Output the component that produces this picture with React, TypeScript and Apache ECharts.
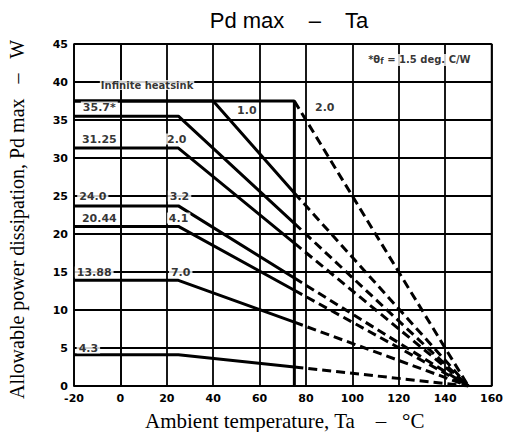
import React, { useEffect, useRef } from "react";
import * as echarts from "echarts";

// Temperatures (°C)
const xMin = -20;
const xMax = 160;
const tcLimit = 75; // end of solid portion
const zeroTemp = 150; // all curves reach 0 W here

// Infinite heatsink curve
const infiniteLevel = 37.5;

// Heatsink curves: flat level, break temperature, value read at 75 °C
const curveLevels = [37.5, 35.5, 31.3, 23.7, 21.0, 13.9, 4.1];
const curveBreaks = [40, 25, 25, 25, 25, 25, 25];
const curveAt75 = [25.4, 21.4, 18.8, 14.2, 12.6, 8.4, 2.5];

// Annotation texts: [x, y, text]
const leftLabels: [number, number, string][] = [
  [-9.1, 36.7, "35.7*"],
  [-9.1, 32.5, "31.25"],
  [-11.9, 25, "24.0"],
  [-9.1, 22.1, "20.44"],
  [-11.3, 15, "13.88"],
  [-13.8, 5, "4.3"],
];
const thetaLabels: [number, number, string][] = [
  [24.3, 32.5, "2.0"],
  [25.5, 25, "3.2"],
  [25.1, 22.1, "4.1"],
  [26, 15, "7.0"],
  [54.5, 36.3, "1.0"],
  [88.1, 36.6, "2.0"],
];
const headLabel: [number, number, string] = [11.5, 39.6, "Infinite heatsink"];
const noteLabel: [number, number] = [128.9, 42.9];

const titleText = "Pd max    \u2013    Ta";
const xName = "Ambient temperature, Ta    \u2013   \u00B0C";
const yName = "Allowable power dissipation, Pd max   \u2013   W";

export default function App() {
  const ref = useRef<HTMLDivElement>(null);
  useEffect(() => {
    if (!ref.current) return;
    document.body.style.margin = "0";
    const chart = echarts.init(ref.current, undefined, { renderer: "svg" });
    const solidStyle = { color: "#000", width: 3, type: "solid" as const };
    const dashStyle = { color: "#000", width: 3, type: [9, 5] as any };
    const series: any[] = [];

    // infinite heatsink
    series.push({
      type: "line",
      data: [
        [xMin, infiniteLevel],
        [tcLimit, infiniteLevel],
        [tcLimit, 0],
      ],
      symbol: "none",
      lineStyle: solidStyle,
      z: 3,
    });
    series.push({
      type: "line",
      data: [
        [tcLimit, infiniteLevel],
        [zeroTemp, 0],
      ],
      symbol: "none",
      lineStyle: dashStyle,
      z: 3,
    });

    curveLevels.forEach((lvl, i) => {
      series.push({
        type: "line",
        data: [
          [xMin, lvl],
          [curveBreaks[i], lvl],
          [tcLimit, curveAt75[i]],
        ],
        symbol: "none",
        lineStyle: solidStyle,
        z: 3,
      });
      series.push({
        type: "line",
        data: [
          [tcLimit, curveAt75[i]],
          [zeroTemp, 0],
        ],
        symbol: "none",
        lineStyle: dashStyle,
        z: 3,
      });
    });

    const labelBase = {
      show: true,
      position: "inside",
      color: "#000",
      fontFamily: "DejaVu Sans",
      fontWeight: "bold",
      fontSize: 11,
    };
    const labelData: any[] = [];
    leftLabels.concat(thetaLabels).forEach(([x, y, t]) => {
      labelData.push({
        value: [x, y],
        label: { ...labelBase, formatter: t, backgroundColor: "#fff", padding: [0, 2] },
      });
    });
    labelData.push({
      value: [headLabel[0], headLabel[1]],
      label: { ...labelBase, fontSize: 10, formatter: headLabel[2], backgroundColor: "#fff", padding: [0, 1] },
    });
    labelData.push({
      value: [noteLabel[0], noteLabel[1]],
      label: {
        ...labelBase,
        formatter: "{a|*\u03B8}{s|f}{a| = 1.5 deg. C/W}",
        backgroundColor: "#fff",
        padding: [0, 1],
        rich: {
          a: { fontFamily: "DejaVu Sans", fontWeight: "bold", fontSize: 10, color: "#000" },
          s: { fontFamily: "DejaVu Sans", fontWeight: "bold", fontSize: 8, color: "#000", verticalAlign: "bottom", padding: [4, 0, 0, 0] },
        },
      },
    });
    series.push({
      type: "scatter",
      data: labelData,
      symbolSize: 0,
      z: 5,
      silent: true,
    });

    chart.setOption({
      animation: false,
      backgroundColor: "#fff",
      title: {
        text: titleText,
        left: 284,
        top: 4,
        textAlign: "center",
        textStyle: {
          fontFamily: "Liberation Sans",
          fontWeight: "normal",
          fontSize: 22,
          color: "#000",
        },
      },
      grid: {
        left: 74,
        right: 9,
        top: 44,
        bottom: 46,
        show: true,
        borderColor: "#000",
        borderWidth: 1.5,
        backgroundColor: "transparent",
      },
      xAxis: {
        type: "value",
        min: xMin,
        max: xMax,
        interval: 20,
        axisLine: { show: true, lineStyle: { color: "#000", width: 1.5 } },
        axisTick: { show: false },
        axisLabel: {
          color: "#000",
          fontFamily: "DejaVu Sans",
          fontWeight: "bold",
          fontSize: 11,
          margin: 7,
        },
        splitLine: { show: true, lineStyle: { color: "#000", width: 1.8 } },
      },
      yAxis: {
        type: "value",
        min: 0,
        max: 45,
        interval: 5,
        axisLine: { show: true, lineStyle: { color: "#000", width: 1.5 } },
        axisTick: { show: false },
        axisLabel: {
          color: "#000",
          fontFamily: "DejaVu Sans",
          fontWeight: "bold",
          fontSize: 11,
          margin: 6,
        },
        splitLine: { show: true, lineStyle: { color: "#000", width: 1.8 } },
      },
      graphic: [
        {
          type: "text",
          x: 145,
          y: 421,
          style: {
            text: xName,
            fontFamily: "Liberation Serif",
            fontSize: 21,
            fill: "#000",
            align: "left",
            verticalAlign: "middle",
          },
        },
        {
          type: "text",
          x: 17,
          y: 399,
          rotation: Math.PI / 2,
          style: {
            text: yName,
            fontFamily: "Liberation Serif",
            fontSize: 20,
            fill: "#000",
            align: "left",
            verticalAlign: "middle",
          },
        },
      ],
      series,
    });
    return () => chart.dispose();
  }, []);
  return <div ref={ref} style={{ width: 506, height: 432 }} />;
}
